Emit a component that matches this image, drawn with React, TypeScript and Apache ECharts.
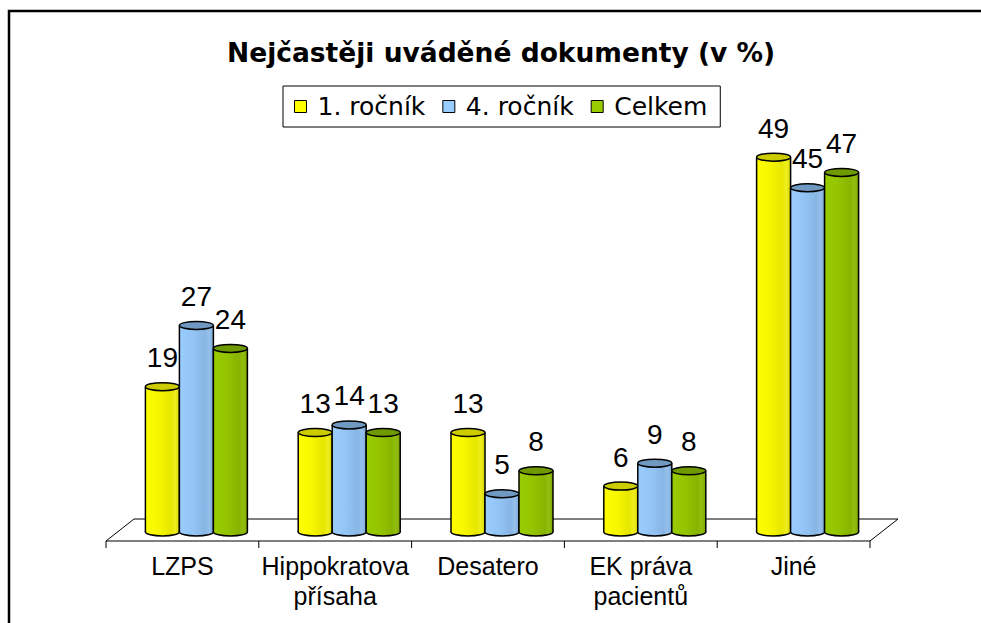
import React, { useEffect, useRef } from "react";
import * as echarts from "echarts";

const categories = ["LZPS", "Hippokratova\npřísaha", "Desatero", "EK práva\npacientů", "Jiné"];
const seriesNames = ["1. ročník", "4. ročník", "Celkem"];
const rocnik1 = [19, 13, 13, 6, 49];
const rocnik4 = [27, 14, 5, 9, 45];
const celkem = [24, 13, 8, 8, 47];
const seriesValues = [rocnik1, rocnik4, celkem];
const titleText = "Nejčastěji uváděné dokumenty (v %)";

const legendColors = ["#FFFF00", "#99CCFF", "#99CC00"];
const capColors = ["#CCCC00", "#7099C2", "#6E9A00"];
const bodyStops = [
  [
    { offset: 0, color: "#FFFF00" },
    { offset: 0.4, color: "#F6F600" },
    { offset: 0.75, color: "#E6E600" },
    { offset: 0.88, color: "#EFEF20" },
    { offset: 1, color: "#D4D400" },
  ],
  [
    { offset: 0, color: "#9ACDFF" },
    { offset: 0.4, color: "#93C4F5" },
    { offset: 0.75, color: "#88B6E4" },
    { offset: 0.88, color: "#95C0EC" },
    { offset: 1, color: "#7FA8D4" },
  ],
  [
    { offset: 0, color: "#99CC00" },
    { offset: 0.4, color: "#94C400" },
    { offset: 0.75, color: "#88B400" },
    { offset: 0.88, color: "#92BE10" },
    { offset: 1, color: "#7EA600" },
  ],
];

const makeBarRender = (si: number) => (params: any, api: any) => {
  const ci = api.value(0);
  const v = api.value(1);
  const top = api.coord([ci, v]);
  const base = api.coord([ci, 0]);
  const cw = api.size([1, 0])[0];
  const bw = cw * 0.2225;
  const cx = top[0] + (si - 1) * bw;
  const x0 = cx - bw / 2;
  const rx = bw / 2;
  const ry = 4;
  const grad = new echarts.graphic.LinearGradient(0, 0, 1, 0, bodyStops[si]);
  return {
    type: "group",
    children: [
      { type: "ellipse", shape: { cx, cy: base[1], rx, ry }, style: { fill: grad, stroke: "#000", lineWidth: 1.5 } },
      { type: "rect", shape: { x: x0, y: top[1], width: bw, height: base[1] - top[1] }, style: { fill: grad } },
      { type: "line", shape: { x1: x0, y1: top[1], x2: x0, y2: base[1] }, style: { stroke: "#000", lineWidth: 1.5 } },
      { type: "line", shape: { x1: x0 + bw, y1: top[1], x2: x0 + bw, y2: base[1] }, style: { stroke: "#000", lineWidth: 1.5 } },
      { type: "ellipse", shape: { cx, cy: top[1], rx, ry }, style: { fill: capColors[si], stroke: "#000", lineWidth: 1.5 } },
      {
        type: "text",
        style: {
          x: cx,
          y: top[1] - 29,
          text: String(v),
          align: "center",
          verticalAlign: "middle",
          fontSize: 28,
          fontFamily: "Liberation Sans, Arial, sans-serif",
          fill: "#000",
        },
      },
    ],
  };
};

const floorRender = (params: any, api: any) => {
  const cs = params.coordSys;
  const b = cs.y + cs.height;
  const l = cs.x;
  const r = cs.x + cs.width;
  const children: any[] = [
    {
      type: "polygon",
      shape: { points: [[l - 14, b + 9], [r - 14, b + 9], [r + 14, b - 13], [l + 14, b - 13]] },
      style: { fill: "#fff", stroke: "#000", lineWidth: 1 },
    },
  ];
  const n = categories.length;
  for (let k = 0; k <= n; k++) {
    const x = l - 14 + (k * cs.width) / n;
    children.push({ type: "line", shape: { x1: x, y1: b + 9, x2: x, y2: b + 16 }, style: { stroke: "#000", lineWidth: 1 } });
  }
  return { type: "group", children };
};

export default function App() {
  const ref = useRef<HTMLDivElement>(null);
  useEffect(() => {
    if (!ref.current) return;
    const chart = echarts.init(ref.current, null, { renderer: "svg" });
    const option: any = {
      animation: false,
      backgroundColor: "#fff",
      title: {
        text: titleText,
        left: 227,
        top: 39,
        padding: 0,
        textStyle: { fontFamily: "DejaVu Sans", fontWeight: "bold", fontSize: 26.5, color: "#000" },
      },
      legend: {
        left: 283,
        top: 86,
        padding: [8, 13, 8, 11],
        itemGap: 17,
        itemWidth: 12,
        itemHeight: 12,
        borderColor: "#000",
        borderWidth: 1,
        icon: "rect",
        textStyle: { fontFamily: "DejaVu Sans", fontSize: 25, color: "#000", padding: [0, 0, 0, 6] },
        data: seriesNames.map((n, i) => ({
          name: n,
          itemStyle: { color: legendColors[i], borderColor: "#000", borderWidth: 1 },
        })),
      },
      graphic: [
        {
          type: "rect",
          shape: { x: 9, y: 11, width: 1000, height: 700 },
          style: { fill: "none", stroke: "#000", lineWidth: 2.5 },
          z: -1,
        },
      ],
      grid: { left: 120, right: 97, top: 73, bottom: 91 },
      xAxis: {
        type: "category",
        data: categories,
        axisLine: { show: false },
        axisTick: { show: false },
        axisLabel: {
          margin: 19,
          fontSize: 25,
          lineHeight: 30,
          fontFamily: "Liberation Sans, Arial, sans-serif",
          color: "#000",
          padding: [0, 28, 0, 0],
          interval: 0,
        },
        splitLine: { show: false },
      },
      yAxis: { type: "value", min: 0, max: 60, show: false },
      series: [
        {
          type: "custom",
          name: "floor",
          renderItem: floorRender,
          data: [[0, 0]],
          silent: true,
          z: 1,
        },
        ...seriesNames.map((name, si) => ({
          type: "custom",
          name,
          renderItem: makeBarRender(si),
          itemStyle: { color: legendColors[si] },
          data: seriesValues[si].map((v, ci) => [ci, v]),
          encode: { x: 0, y: 1 },
          z: 2 + si,
        })),
      ],
    };
    chart.setOption(option);
    return () => chart.dispose();
  }, []);
  return <div ref={ref} style={{ position: "fixed", left: 0, top: 0, width: 981, height: 623 }} />;
}
